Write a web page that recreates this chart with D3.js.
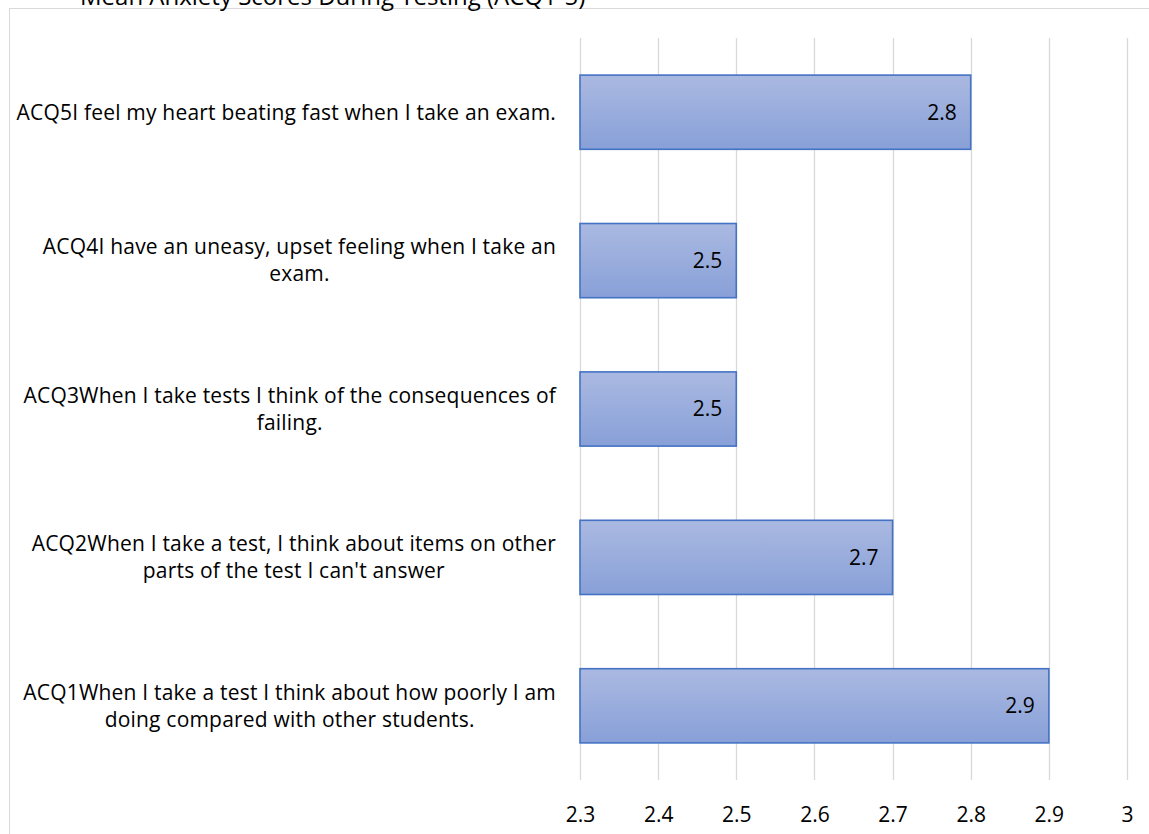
<!DOCTYPE html>
<html>
<head>
  <meta charset="utf-8">
  <title>ACQ chart</title>
  <script src="https://d3js.org/d3.v7.min.js"></script>
  <style>
    html, body { margin: 0; height: 100%; overflow: hidden; background: #fff; }
    #chart { width: 1149px; height: 834px; }
    text { font-family: "Open Sans", Lato, sans-serif; fill: #000; }
  </style>
</head>
<body>
  <div id="chart"></div>
  <script>
    // categories, top to bottom
    const categories = ['ACQ5', 'ACQ4', 'ACQ3', 'ACQ2', 'ACQ1'];
    const labelLines = [
      ['ACQ5I feel my heart beating fast when I take an exam.'],
      ['ACQ4I have an uneasy, upset feeling when I take an', 'exam.'],
      ['ACQ3When I take tests I think of the consequences of', 'failing.'],
      ['ACQ2When I take a test, I think about items on other', 'parts of the test I can\'t answer'],
      ['ACQ1When I take a test I think about how poorly I am', 'doing compared with other students.']
    ];
    const values = [2.8, 2.5, 2.5, 2.7, 2.9];
    const xTicks = [2.3, 2.4, 2.5, 2.6, 2.7, 2.8, 2.9, 3];
    const title = 'Mean Anxiety Scores During Testing (ACQ1-5)';

    const W = 1149, H = 834;
    const margin = { left: 580, right: 22, top: 38, bottom: 54 };
    const fs = 21;
    const ls = 0.2;

    const svg = d3.select('#chart')
      .append('svg')
      .attr('width', W)
      .attr('height', H);

    const defs = svg.append('defs');
    const grad = defs.append('linearGradient')
      .attr('id', 'barFill')
      .attr('x1', 0).attr('y1', 0).attr('x2', 0).attr('y2', 1);
    grad.append('stop').attr('offset', '0%').attr('stop-color', '#aab9e1');
    grad.append('stop').attr('offset', '100%').attr('stop-color', '#88a0d8');

    // chart frame (cut off at right/bottom)
    svg.append('rect')
      .attr('x', 9.5).attr('y', 8.5)
      .attr('width', W + 20).attr('height', H + 20)
      .attr('fill', '#fff')
      .attr('stroke', '#d9d9d9');

    // title, mostly above the view
    svg.append('text')
      .attr('x', 80)
      .attr('y', 5)
      .attr('font-size', 24)
      .attr('fill', '#222')
      .text(title);

    const x = d3.scaleLinear()
      .domain([2.3, 3])
      .range([margin.left, W - margin.right]);

    const y = d3.scaleBand()
      .domain(categories)
      .range([margin.top, H - margin.bottom])
      .paddingInner(0.5)
      .paddingOuter(0.25);

    // gridlines
    svg.append('g')
      .selectAll('line')
      .data(xTicks)
      .join('line')
      .attr('x1', d => Math.round(x(d)) + 0.5)
      .attr('x2', d => Math.round(x(d)) + 0.5)
      .attr('y1', margin.top)
      .attr('y2', H - margin.bottom)
      .attr('stroke', '#d9d9d9')
      .attr('stroke-width', 1.3);

    // x axis labels
    const xAxis = d3.axisBottom(x)
      .tickValues(xTicks)
      .tickSize(0)
      .tickPadding(0)
      .tickFormat(d3.format('~g'));
    const gx = svg.append('g')
      .attr('transform', `translate(0, ${H - 12})`)
      .call(xAxis);
    gx.select('.domain').remove();
    gx.selectAll('text')
      .attr('font-size', fs)
      .attr('font-family', '"Open Sans", sans-serif')
      .attr('fill', '#000')
      .attr('dy', 0);

    // bars
    svg.append('g')
      .selectAll('rect')
      .data(values)
      .join('rect')
      .attr('x', x(2.3))
      .attr('y', (d, i) => y(categories[i]))
      .attr('width', d => x(d) - x(2.3))
      .attr('height', y.bandwidth())
      .attr('fill', 'url(#barFill)')
      .attr('stroke', '#4472c4')
      .attr('stroke-width', 1.6);

    // data labels
    svg.append('g')
      .selectAll('text')
      .data(values)
      .join('text')
      .attr('x', d => x(d) - 14)
      .attr('y', (d, i) => y(categories[i]) + y.bandwidth() / 2)
      .attr('dy', '0.35em')
      .attr('text-anchor', 'end')
      .attr('font-size', fs)
      .text(d => d3.format('.1f')(d));

    // category labels: centred lines, block right-aligned against the plot
    const labelRight = 556;
    const lineH = 27;
    const catG = svg.append('g');
    labelLines.forEach((lines, i) => {
      const g = catG.append('g');
      const cy = y(categories[i]) + y.bandwidth() / 2;
      const t = g.selectAll('text')
        .data(lines)
        .join('text')
        .attr('font-size', fs)
        .attr('letter-spacing', ls)
        .attr('text-anchor', 'middle')
        .attr('y', (d, j) => cy + (j - (lines.length - 1) / 2) * lineH)
        .attr('dy', '0.35em')
        .text(d => d);
      const maxW = d3.max(t.nodes(), n => n.getComputedTextLength());
      t.attr('x', labelRight - maxW / 2);
    });
  </script>
</body>
</html>
